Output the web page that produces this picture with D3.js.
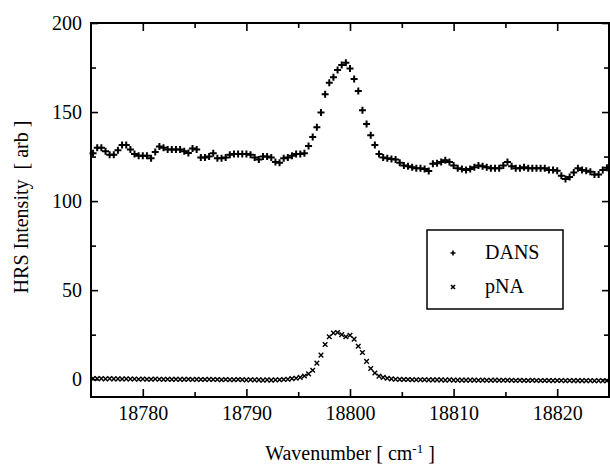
<!DOCTYPE html>
<html>
<head>
<meta charset="utf-8">
<script src="https://cdn.jsdelivr.net/npm/d3@7"></script>
<style>
  body { margin: 0; background: #fff; }
  svg text { font-family: "Liberation Serif", "Times New Roman", serif; fill: #000; }
</style>
</head>
<body>
<div id="chart"></div>
<script>
// wavenumber grid (cm-1)
var wavenumber = [
  18775.2, 18775.6, 18776.0, 18776.4, 18776.8, 18777.2, 18777.6, 18778.0, 18778.4, 18778.8,
  18779.2, 18779.6, 18780.0, 18780.4, 18780.8, 18781.2, 18781.6, 18782.0, 18782.4, 18782.8,
  18783.2, 18783.6, 18784.0, 18784.4, 18784.8, 18785.2, 18785.6, 18786.0, 18786.4, 18786.8,
  18787.2, 18787.6, 18788.0, 18788.4, 18788.8, 18789.2, 18789.6, 18790.0, 18790.4, 18790.8,
  18791.2, 18791.6, 18792.0, 18792.4, 18792.8, 18793.2, 18793.6, 18794.0, 18794.4, 18794.8,
  18795.2, 18795.6, 18796.0, 18796.4, 18796.8, 18797.2, 18797.6, 18798.0, 18798.4, 18798.8,
  18799.2, 18799.6, 18800.0, 18800.4, 18800.8, 18801.2, 18801.6, 18802.0, 18802.4, 18802.8,
  18803.2, 18803.6, 18804.0, 18804.4, 18804.8, 18805.2, 18805.6, 18806.0, 18806.4, 18806.8,
  18807.2, 18807.6, 18808.0, 18808.4, 18808.8, 18809.2, 18809.6, 18810.0, 18810.4, 18810.8,
  18811.2, 18811.6, 18812.0, 18812.4, 18812.8, 18813.2, 18813.6, 18814.0, 18814.4, 18814.8,
  18815.2, 18815.6, 18816.0, 18816.4, 18816.8, 18817.2, 18817.6, 18818.0, 18818.4, 18818.8,
  18819.2, 18819.6, 18820.0, 18820.4, 18820.8, 18821.2, 18821.6, 18822.0, 18822.4, 18822.8,
  18823.2, 18823.6, 18824.0, 18824.4, 18824.8
];

// HRS intensity, DANS
var dans = [
  126.8, 130, 130, 128, 126, 126, 128.5, 131.5, 131.5, 129,
  126.5, 125.5, 125.5, 125.5, 124, 127.5, 130.7, 130, 129, 129,
  129, 129, 128, 127, 129.6, 129, 124.5, 124.5, 125, 126.8,
  124, 124, 124.5, 126, 126.4, 126.4, 126.4, 126.4, 126, 124.5,
  123.4, 125, 125, 124.5, 122, 121.5, 124, 124.5, 125.5, 126.4,
  126.4, 126.8, 131, 136, 141.4, 149.8, 160, 166.5, 169.5, 173.6,
  176.4, 177.7, 174.5, 168.5, 161.8, 151, 143.3, 137, 131.5, 126.4,
  124.5, 124, 123.6, 123.4, 121.5, 120, 119.5, 119, 118.5, 118.5,
  118, 116.9, 121, 121.2, 122, 123, 122, 120, 118.5, 118,
  117.5, 118, 119, 120, 119.5, 119, 118.5, 118.4, 118.5, 120,
  122, 119.5, 118.5, 118.5, 119, 118.5, 118.5, 118.5, 118.4, 118.4,
  117.5, 117.4, 117, 114.2, 112.4, 113.5, 116, 118.4, 117.5, 117,
  116.5, 115, 115, 117.5, 118.7
];

// HRS intensity, pNA
var pna = [
  0.4, 0.3, 0.3, 0.2, 0.3, 0.2, 0.2, 0.1, 0.2, 0.1,
  0.1, 0, 0.1, 0, 0, 0.1, 0, -0.1, 0, -0.1,
  0, -0.1, -0.1, 0, -0.2, -0.1, -0.2, -0.2, -0.1, -0.2,
  -0.2, -0.3, -0.2, -0.3, -0.3, -0.2, -0.3, -0.4, -0.3, -0.4,
  -0.4, -0.5, -0.4, -0.5, -0.4, -0.3, -0.2, 0, 0.3, 0.5,
  1, 1.8, 3, 5, 9, 13.5, 19.5, 23.8, 25.9, 26.2,
  25, 23.8, 24.7, 22.5, 18.5, 15, 10, 6, 3.5, 1.7,
  1, 0.5, 0.2, 0, -0.1, -0.2, -0.2, -0.3, -0.3, -0.3,
  -0.3, -0.4, -0.4, -0.4, -0.4, -0.5, -0.4, -0.5, -0.5, -0.5,
  -0.5, -0.5, -0.5, -0.6, -0.5, -0.6, -0.6, -0.5, -0.6, -0.6,
  -0.6, -0.6, -0.7, -0.6, -0.7, -0.7, -0.6, -0.7, -0.7, -0.7,
  -0.7, -0.8, -0.7, -0.7, -0.8, -0.7, -0.8, -0.8, -0.8, -0.8,
  -0.8, -0.9, -0.8, -0.9, -0.9
];

var xMajor = [18780, 18790, 18800, 18810, 18820];
var xMinor = [18785, 18795, 18805, 18815];
var yMajor = [0, 50, 100, 150, 200];
var yMinor = [25, 75, 125, 175];
var seriesNames = ["DANS", "pNA"];

var W = 610, H = 467;
var margin = {top: 23, right: 1, bottom: 70, left: 91};
var width = W - margin.left - margin.right,
    height = H - margin.top - margin.bottom;

var svg = d3.select("#chart").append("svg")
    .attr("width", W)
    .attr("height", H);
var g = svg.append("g")
    .attr("transform", "translate(" + margin.left + "," + margin.top + ")");

var x = d3.scaleLinear().domain([18775, 18825]).range([0, width]);
var y = d3.scaleLinear().domain([-10, 200]).range([height, 0]);

// axes, ticks drawn inward on all four sides
function styleAxis(sel) {
  sel.select(".domain").remove();
  sel.selectAll("line").attr("stroke", "#000").attr("stroke-width", 1.6);
  sel.selectAll("text").style("font-size", "20px").style("font-family", "Liberation Serif");
}

g.append("g").attr("transform", "translate(0," + height + ")")
    .call(d3.axisBottom(x).tickValues(xMajor).tickFormat(d3.format("d")).tickSize(-8).tickPadding(9))
    .call(styleAxis);
g.append("g").attr("transform", "translate(0," + height + ")")
    .call(d3.axisBottom(x).tickValues(xMinor).tickFormat("").tickSize(-5))
    .call(styleAxis);
g.append("g")
    .call(d3.axisTop(x).tickValues(xMajor).tickFormat("").tickSize(-8))
    .call(styleAxis);
g.append("g")
    .call(d3.axisTop(x).tickValues(xMinor).tickFormat("").tickSize(-5))
    .call(styleAxis);

g.append("g")
    .call(d3.axisLeft(y).tickValues(yMajor).tickFormat(d3.format("d")).tickSize(-7).tickPadding(9))
    .call(styleAxis);
g.append("g")
    .call(d3.axisLeft(y).tickValues(yMinor).tickFormat("").tickSize(-5))
    .call(styleAxis);
g.append("g").attr("transform", "translate(" + width + ",0)")
    .call(d3.axisRight(y).tickValues(yMajor).tickFormat("").tickSize(-7))
    .call(styleAxis);
g.append("g").attr("transform", "translate(" + width + ",0)")
    .call(d3.axisRight(y).tickValues(yMinor).tickFormat("").tickSize(-5))
    .call(styleAxis);

// frame
g.append("rect")
    .attr("width", width)
    .attr("height", height)
    .attr("fill", "none")
    .attr("stroke", "#000")
    .attr("stroke-width", 2);

// markers
var plusPath = "M-3.5,0H3.5M0,-3.5V3.5";
var crossPath = "M-2.3,-2.3L2.3,2.3M-2.3,2.3L2.3,-2.3";

g.append("g").selectAll("path")
    .data(wavenumber)
  .enter().append("path")
    .attr("transform", function(d, i) { return "translate(" + x(d) + "," + y(dans[i]) + ")"; })
    .attr("d", plusPath)
    .attr("stroke", "#000")
    .attr("stroke-width", 2);

g.append("g").selectAll("path")
    .data(wavenumber)
  .enter().append("path")
    .attr("transform", function(d, i) { return "translate(" + x(d) + "," + y(pna[i]) + ")"; })
    .attr("d", crossPath)
    .attr("stroke", "#000")
    .attr("stroke-width", 1.4);

// legend
var legend = svg.append("g").attr("transform", "translate(427,230)");
legend.append("rect")
    .attr("width", 136)
    .attr("height", 79)
    .attr("fill", "#fff")
    .attr("stroke", "#000")
    .attr("stroke-width", 1.5);
var items = legend.selectAll(".item")
    .data(seriesNames)
  .enter().append("g")
    .attr("class", "item")
    .attr("transform", function(d, i) { return "translate(0," + (23 + i * 34) + ")"; });
items.append("path")
    .attr("transform", "translate(26,0)")
    .attr("d", function(d, i) { return i === 0 ? "M-2.5,0H2.5M0,-2.5V2.5" : "M-2,-2L2,2M-2,2L2,-2"; })
    .attr("stroke", "#000")
    .attr("stroke-width", 1.6);
items.append("text")
    .attr("x", 58)
    .attr("y", 6)
    .style("font-size", "20px")
    .text(function(d) { return d; });

// axis titles
var xt = svg.append("text")
    .attr("x", margin.left + width / 2)
    .attr("y", 460)
    .attr("text-anchor", "middle")
    .style("font-size", "20px");
xt.append("tspan").text("Wavenumber [ cm");
xt.append("tspan").attr("dy", -7).style("font-size", "13px").text("-1");
xt.append("tspan").attr("dy", 7).text(" ]");

svg.append("text")
    .attr("transform", "translate(28,207) rotate(-90)")
    .attr("text-anchor", "middle")
    .style("font-size", "20px")
    .attr("xml:space", "preserve")
    .text("HRS Intensity  [ arb ]");
</script>
</body>
</html>
